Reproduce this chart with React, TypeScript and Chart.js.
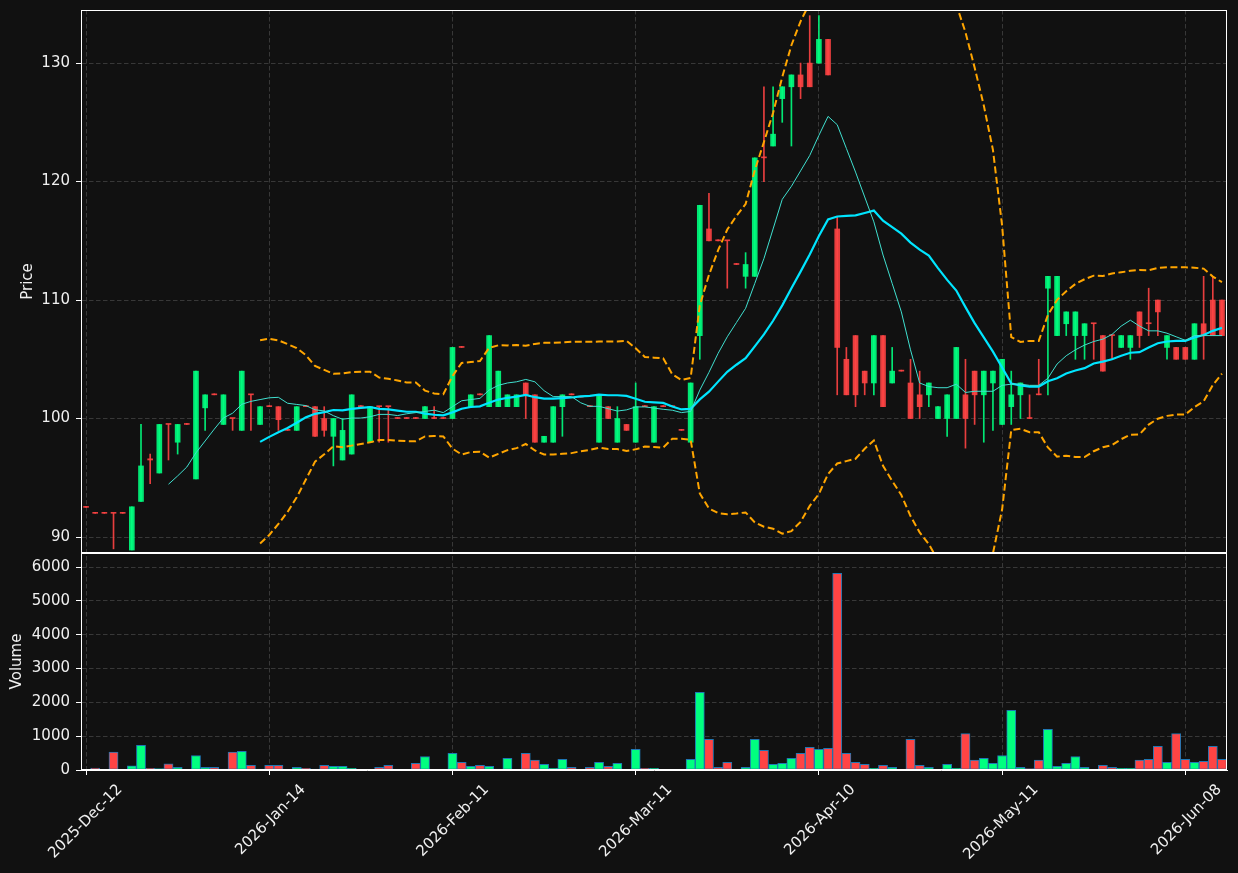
import { useEffect, useRef } from 'react';
import { Chart, registerables } from 'chart.js';

Chart.register(...registerables);

// ---------- data ----------
const tickIndex = [0, 20, 40, 60, 80, 100, 120];
const tickLabels = ['2025-Dec-12', '2026-Jan-14', '2026-Feb-11', '2026-Mar-11', '2026-Apr-10', '2026-May-11', '2026-Jun-08'];
const priceTicks = [90, 100, 110, 120, 130];
const volumeTicks = [0, 1000, 2000, 3000, 4000, 5000, 6000];

const opens = [
  92.5, 92.0, 92.0, 92.0, 92.0, 88.9, 93.0, 96.6, 95.4, 99.5,
  98.0, 99.5, 94.9, 100.9, 102.0, 99.5, 100.0, 99.0, 102.0, 99.5,
  101.0, 101.0, 99.0, 99.0, 101.0, 101.0, 100.0, 98.5, 96.5, 97.0,
  101.0, 98.0, 101.0, 101.0, 100.0, 100.0, 100.0, 100.0, 100.0, 100.0,
  100.0, 106.0, 101.0, 102.0, 101.0, 101.0, 101.0, 101.0, 103.0, 102.0,
  98.0, 98.0, 101.0, 102.0, 101.8, 101.0, 98.0, 101.0, 98.0, 99.5,
  98.0, 101.0, 98.0, 101.0, 101.0, 99.0, 98.0, 107.0, 116.0, 115.0,
  115.0, 113.0, 112.0, 112.0, 122.0, 123.0, 127.0, 128.0, 129.0, 130.0,
  130.0, 132.0, 116.0, 105.0, 107.0, 104.0, 103.0, 107.0, 103.0, 104.0,
  103.0, 102.0, 102.0, 100.0, 100.0, 100.0, 102.0, 104.0, 102.0, 103.0,
  99.5, 101.0, 102.0, 100.0, 102.0, 111.0, 107.0, 108.0, 107.0, 107.0,
  108.0, 107.0, 107.0, 106.0, 106.0, 109.0, 108.0, 110.0, 106.0, 106.0,
  106.0, 105.0, 108.0, 110.0, 110.0,
];
const highs = [
  92.5, 92.0, 92.0, 92.0, 92.0, 92.55, 99.5, 97.0, 99.5, 99.5,
  99.5, 99.5, 104.0, 102.0, 102.0, 102.0, 100.0, 104.0, 102.0, 101.0,
  101.0, 101.0, 99.0, 101.0, 101.0, 101.0, 101.0, 100.0, 100.0, 102.0,
  101.0, 101.0, 101.0, 101.0, 100.0, 100.0, 100.0, 101.0, 101.0, 100.0,
  106.0, 106.0, 102.0, 102.0, 107.0, 104.0, 102.0, 102.0, 103.0, 102.0,
  98.5, 101.0, 102.0, 102.0, 101.8, 101.0, 102.0, 101.0, 101.0, 99.5,
  103.0, 101.0, 101.0, 101.0, 101.0, 99.0, 103.0, 118.0, 119.0, 115.0,
  115.0, 113.0, 114.0, 122.0, 128.0, 128.0, 128.0, 129.0, 130.0, 134.0,
  134.0, 132.0, 117.0, 106.0, 107.0, 104.0, 107.0, 107.0, 106.0, 104.0,
  105.0, 104.0, 103.0, 101.0, 102.0, 106.0, 105.0, 104.0, 104.0, 104.0,
  105.0, 104.0, 103.0, 102.0, 105.0, 112.0, 112.0, 109.0, 109.0, 108.0,
  108.0, 107.0, 107.0, 107.0, 107.0, 109.0, 111.0, 110.0, 107.0, 106.0,
  106.0, 108.0, 112.0, 112.0, 110.0,
];
const lows = [
  92.5, 92.0, 92.0, 89.0, 92.0, 88.9, 93.0, 94.5, 95.4, 96.5,
  97.0, 99.5, 94.9, 99.0, 102.0, 99.5, 99.0, 99.0, 99.0, 99.5,
  101.0, 99.0, 99.0, 99.0, 101.0, 98.5, 98.5, 96.0, 96.5, 97.0,
  101.0, 98.0, 98.0, 98.0, 100.0, 100.0, 100.0, 100.0, 100.0, 100.0,
  100.0, 106.0, 101.0, 102.0, 101.0, 101.0, 101.0, 101.0, 100.0, 98.0,
  98.0, 98.0, 98.5, 102.0, 101.8, 101.0, 98.0, 100.0, 98.0, 99.0,
  98.0, 101.0, 98.0, 101.0, 101.0, 99.0, 98.0, 105.0, 115.0, 115.0,
  111.0, 113.0, 111.0, 112.0, 120.0, 123.0, 125.0, 123.0, 127.0, 128.0,
  130.0, 129.0, 102.0, 102.0, 101.0, 102.0, 102.0, 101.0, 103.0, 104.0,
  100.0, 100.0, 101.0, 100.0, 98.5, 100.0, 97.5, 99.5, 98.0, 99.0,
  99.5, 99.5, 100.0, 100.0, 102.0, 102.0, 107.0, 107.0, 105.0, 105.0,
  105.0, 104.0, 105.0, 106.0, 105.0, 106.0, 107.0, 107.0, 105.0, 105.0,
  105.0, 105.0, 105.0, 107.0, 107.0,
];
const closes = [
  92.5, 92.0, 92.0, 92.0, 92.0, 92.55, 96.0, 96.5, 99.5, 99.5,
  99.5, 99.5, 104.0, 102.0, 102.0, 102.0, 100.0, 104.0, 102.0, 101.0,
  101.0, 99.9, 99.0, 101.0, 101.0, 98.5, 99.0, 100.0, 99.0, 102.0,
  101.0, 101.0, 101.0, 101.0, 100.0, 100.0, 100.0, 101.0, 100.0, 100.0,
  106.0, 106.0, 102.0, 102.0, 107.0, 104.0, 102.0, 102.0, 102.0, 98.0,
  98.5, 101.0, 102.0, 102.0, 101.8, 101.0, 102.0, 100.0, 100.0, 99.0,
  101.0, 101.0, 101.0, 101.0, 101.0, 99.0, 103.0, 118.0, 115.0, 115.0,
  115.0, 113.0, 113.0, 122.0, 122.0, 124.0, 128.0, 129.0, 128.0, 128.0,
  132.0, 129.0, 106.0, 102.0, 102.0, 103.0, 107.0, 101.0, 104.0, 104.0,
  100.0, 101.0, 103.0, 101.0, 102.0, 106.0, 100.0, 102.0, 104.0, 104.0,
  105.0, 102.0, 103.0, 100.0, 102.0, 112.0, 112.0, 109.0, 109.0, 108.0,
  108.0, 104.0, 107.0, 107.0, 107.0, 107.0, 108.0, 109.0, 107.0, 105.0,
  105.0, 108.0, 107.0, 107.0, 107.0,
];
const volumes = [
  0, 60, 0, 530, 0, 120, 730, 50, 40, 180,
  80, 0, 430, 80, 80, 30, 530, 550, 140, 30,
  140, 140, 0, 80, 50, 30, 140, 110, 110, 50,
  20, 20, 80, 140, 0, 0, 200, 400, 0, 0,
  490, 230, 110, 140, 110, 30, 345, 0, 490, 290,
  170, 50, 315, 80, 0, 80, 230, 110, 200, 0,
  610, 50, 50, 0, 0, 0, 315, 2300, 910, 80,
  230, 0, 80, 910, 580, 170, 200, 345, 490, 670,
  610, 640, 5820, 490, 230, 170, 50, 140, 80, 0,
  910, 140, 80, 20, 170, 50, 1075, 290, 345, 200,
  430, 1765, 80, 40, 290, 1200, 110, 200, 400, 80,
  20, 140, 80, 50, 50, 290, 315, 700, 230, 1075,
  315, 230, 256, 700, 315,
];

// ---------- indicators derived from the closes ----------
function rollingMean(values: number[], n: number): (number | null)[] {
  return values.map((_, i) => {
    if (i < n - 1) return null;
    let s = 0;
    for (let k = i - n + 1; k <= i; k++) s += values[k];
    return s / n;
  });
}
function rollingStd(values: number[], n: number): (number | null)[] {
  const mean = rollingMean(values, n);
  return values.map((_, i) => {
    const m = mean[i];
    if (m === null) return null;
    let s = 0;
    for (let k = i - n + 1; k <= i; k++) s += (values[k] - m) * (values[k] - m);
    return Math.sqrt(s / n);
  });
}

const UP_CANDLE = 'rgba(0,255,127,0.9)';
const DOWN_CANDLE = 'rgba(255,68,68,0.9)';
const UP_VOL = '#00ff7f';
const DOWN_VOL = '#ff4444';
const GRID = '#383838';
const TEXT = '#f0f0f0';
const FONT = { family: 'DejaVu Sans', size: 15 };

const paneClip = {
  id: 'paneClip',
  beforeDatasetDraw(chart: any, args: any) {
    const ys = chart.scales[args.meta.yAxisID];
    const { left, right } = chart.chartArea;
    const ctx = chart.ctx;
    ctx.save();
    ctx.beginPath();
    ctx.rect(left, ys.top, right - left, ys.bottom - ys.top);
    ctx.clip();
  },
  afterDatasetDraw(chart: any) {
    chart.ctx.restore();
  },
};

const paneFrame = {
  id: 'paneFrame',
  afterDatasetsDraw(chart: any) {
    const { ctx, chartArea } = chart;
    ctx.save();
    ctx.strokeStyle = '#ffffff';
    ctx.lineWidth = 1;
    for (const id of ['y', 'yv']) {
      const s = chart.scales[id];
      const l = Math.round(chartArea.left) + 0.5;
      const r = Math.round(chartArea.right) - 0.5;
      const t = Math.round(s.top) + 0.5;
      const b = Math.round(s.bottom) - 0.5;
      ctx.strokeRect(l, t, r - l, b - t);
    }
    ctx.restore();
  },
};

const fitY = (s: any) => {
  s.width = 81;
  s.paddingTop = 0;
  s.paddingBottom = 0;
};

export default function App() {
  const ref = useRef<HTMLCanvasElement | null>(null);

  useEffect(() => {
    if (!ref.current) return;
    const ma10 = rollingMean(closes, 10);
    const ma20 = rollingMean(closes, 20);
    const sd20 = rollingStd(closes, 20);
    const upper = ma20.map((m, i) => (m === null ? null : m + 2 * (sd20[i] as number)));
    const lower = ma20.map((m, i) => (m === null ? null : m - 2 * (sd20[i] as number)));
    const isUp = closes.map((c, i) => c > opens[i]);
    const candleColors = isUp.map((u) => (u ? UP_CANDLE : DOWN_CANDLE));
    const volColors = isUp.map((u) => (u ? UP_VOL : DOWN_VOL));
    const pts = (arr: (number | null)[]) => arr.map((v, i) => ({ x: i, y: v }));

    const chart = new Chart(ref.current, {
      type: 'bar',
      data: {
        datasets: [
          { type: 'line', label: 'MA10', data: pts(ma10), borderColor: '#40e0d0', borderWidth: 1, pointRadius: 0, yAxisID: 'y', order: 0 } as any,
          { type: 'line', label: 'MA20', data: pts(ma20), borderColor: '#00e5ff', borderWidth: 2.2, pointRadius: 0, yAxisID: 'y', order: 0 } as any,
          { type: 'line', label: 'Upper', data: pts(upper), borderColor: '#ffa500', borderWidth: 2, borderDash: [7, 3.5], pointRadius: 0, yAxisID: 'y', order: 0 } as any,
          { type: 'line', label: 'Lower', data: pts(lower), borderColor: '#ffa500', borderWidth: 2, borderDash: [7, 3.5], pointRadius: 0, yAxisID: 'y', order: 0 } as any,
          {
            type: 'bar', label: 'Body', data: opens.map((o, i) => ({ x: i, y: [o, closes[i]] })),
            backgroundColor: candleColors, barThickness: 5, minBarLength: 1, grouped: false, yAxisID: 'y', order: 1,
          } as any,
          {
            type: 'bar', label: 'Wick', data: lows.map((l, i) => ({ x: i, y: [l, highs[i]] })),
            backgroundColor: candleColors, barThickness: 1, minBarLength: 1, grouped: false, yAxisID: 'y', order: 2,
          } as any,
          {
            type: 'bar', label: 'Volume', data: volumes.map((v, i) => ({ x: i, y: v })),
            backgroundColor: volColors, borderColor: '#1f77b4', borderWidth: 1, borderSkipped: false,
            barThickness: 9.16, grouped: false, yAxisID: 'yv', order: 3,
          } as any,
        ],
      },
      options: {
        animation: false,
        responsive: false,
        devicePixelRatio: 1,
        layout: { padding: { top: 10, right: 11, left: 0, bottom: 0 } },
        plugins: { legend: { display: false }, tooltip: { enabled: false } },
        scales: {
          x: {
            type: 'linear',
            min: -0.55,
            max: 124.55,
            offset: false,
            grid: { color: GRID, offset: false, tickColor: '#ffffff', tickLength: 5, tickBorderDash: [1, 0] },
            border: { color: '#ffffff', dash: [4.5, 2.5] },
            afterBuildTicks: (s: any) => { s.ticks = tickIndex.map((v) => ({ value: v })); },
            afterFit: (s: any) => { s.height = 103; },
            ticks: {
              autoSkip: false, maxRotation: 45, minRotation: 45, labelOffset: 34, padding: 6,
              color: TEXT, font: FONT,
              callback: (_v: any, idx: number) => tickLabels[idx],
            },
          } as any,
          y: {
            type: 'linear', position: 'left', stack: 'panes', stackWeight: 543, weight: 2,
            min: 88.65, max: 134.48,
            grid: { color: GRID, tickColor: '#ffffff', tickLength: 5, tickBorderDash: [1, 0] },
            border: { color: '#ffffff', dash: [4.5, 2.5] },
            afterBuildTicks: (s: any) => { s.ticks = priceTicks.map((v) => ({ value: v })); },
            afterFit: fitY,
            ticks: { autoSkip: false, color: TEXT, font: FONT, padding: 6, callback: (v: any) => String(v) },
            title: { display: true, text: 'Price', color: TEXT, font: FONT, padding: { top: 19, bottom: 0 } },
          } as any,
          yv: {
            type: 'linear', position: 'left', stack: 'panes', stackWeight: 217, weight: 1,
            min: 0, max: 6420,
            grid: { color: GRID, tickColor: '#ffffff', tickLength: 5, tickBorderDash: [1, 0] },
            border: { color: '#ffffff', dash: [4.5, 2.5] },
            afterBuildTicks: (s: any) => { s.ticks = volumeTicks.map((v) => ({ value: v })); },
            afterFit: fitY,
            ticks: { autoSkip: false, color: TEXT, font: FONT, padding: 6, callback: (v: any) => String(v) },
            title: { display: true, text: 'Volume', color: TEXT, font: FONT, padding: { top: 8, bottom: 0 } },
          } as any,
        },
      } as any,
      plugins: [paneClip, paneFrame],
    });
    return () => chart.destroy();
  }, []);

  return (
    <div style={{ position: 'fixed', left: 0, top: 0, width: 1238, height: 873, background: '#111111' }}>
      <canvas ref={ref} width={1238} height={873} style={{ display: 'block' }} />
    </div>
  );
}
